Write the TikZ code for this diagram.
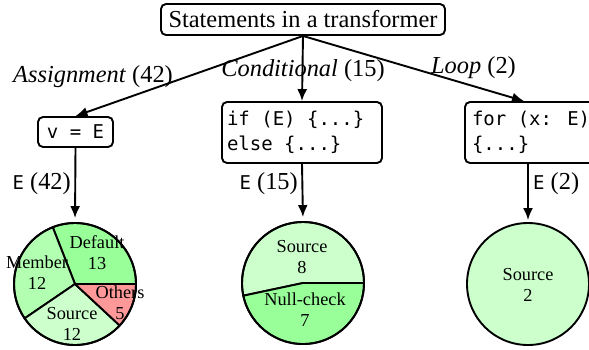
\documentclass[tikz,border=0pt]{standalone}
\usepackage{fontspec}
\setmainfont{Liberation Serif}
\newfontfamily\codefont{DejaVu Sans Mono}[WordSpace={1,0,0}]
\usetikzlibrary{arrows.meta}
\tikzset{
  mainfont/.style={font=\fontsize{24.4}{29}\selectfont},
  stmtbox/.style={draw, rounded corners=5pt, line width=1.9pt, inner sep=0pt, mainfont},
  codebox/.style={draw, rounded corners=5pt, line width=1.9pt, inner ysep=0pt,
    align=left, font=\fontsize{19}{25}\codefont},
  lbl/.style={inner sep=0pt, mainfont},
  pietxt/.style={inner sep=0pt, align=center, font=\fontsize{18.3}{21}\selectfont},
  arr/.style={line width=1.9pt, -{Latex[length=12pt,width=10pt]}},
  slice/.style={draw, line width=1.9pt, line join=round},
  piecirc/.style={circle, draw, line width=1.9pt, minimum size=122pt, inner sep=0pt},
}
\begin{document}
\begin{tikzpicture}[x=1pt, y=-1pt]
\clip (0,0) rectangle (589,349);
% top node
\node[stmtbox, minimum width=284pt, minimum height=31pt] (top) at (303,19.5) {Statements in a transformer};
% statement boxes
\node[stmtbox, minimum width=75pt, minimum height=30pt, font=\fontsize{19}{25}\codefont] (assign) at (75.5,132) {v = E};
\node[codebox, text width=150pt, inner xsep=5pt, minimum height=61pt] (cond) at (302,132.5) {\spaceskip=0pt\xspaceskip=0pt\relax if (E) \{...\}\\else \{...\}};
\node[codebox, text width=126pt, inner xsep=7pt, minimum height=61pt] (loop) at (535,132.5) {\spaceskip=0pt\xspaceskip=0pt\relax for (x: E)\\\{...\}};

% pie 1
\coordinate (c1) at (75,284);
\filldraw[slice, fill=green!40] (c1) -- ++(0:61) arc[start angle=0, end angle=-111.4, radius=61] -- cycle;
\filldraw[slice, fill=green!30] (c1) -- ++(-111.4:61) arc[start angle=-111.4, end angle=-214.3, radius=61] -- cycle;
\filldraw[slice, fill=green!20] (c1) -- ++(-214.3:61) arc[start angle=-214.3, end angle=-317.1, radius=61] -- cycle;
\filldraw[slice, fill=red!40] (c1) -- ++(-317.1:61) arc[start angle=-317.1, end angle=-360, radius=61] -- cycle;
\node[piecirc] (pie1) at (c1) {};
\node[pietxt] (p1a) at (97,253) {Default\\13};
\node[pietxt] (p1b) at (37,273) {Member\\12};
\node[pietxt] (p1c) at (72,324) {Source\\12};
\node[pietxt] (p1d) at (120,303) {Others\\5};

% pie 2
\coordinate (c2) at (303,283);
\filldraw[slice, fill=green!20] (c2) -- ++(0:61) arc[start angle=0, end angle=-192, radius=61] -- cycle;
\filldraw[slice, fill=green!40] (c2) -- ++(-192:61) arc[start angle=-192, end angle=-360, radius=61] -- cycle;
\node[piecirc] (pie2) at (c2) {};
\node[pietxt] (p2a) at (302,257) {Source\\8};
\node[pietxt] (p2b) at (305,310) {Null-check\\7};

% pie 3
\node[piecirc, fill=green!20] (pie3) at (528,284) {};
\node[pietxt] (p3a) at (528,285) {Source\\2};

% arrows
\draw[arr] (top.south) -- (assign.north);
\draw[arr] (top.south) -- (cond.north);
\draw[arr] (top.south) -- ([xshift=-11pt]loop.north);
\draw[arr, shorten >=4pt] (assign.south) -- (pie1.north);
\draw[arr, shorten >=4pt] (cond.south) -- (pie2.north);
\draw[arr, shorten >=2pt] (loop.south -| pie3.north) -- (pie3.north);

% edge labels
\node[lbl, anchor=base] (la) at (93,82) {\textit{Assignment} (42)};
\node[lbl, anchor=base] (lc) at (303,76) {\textit{Conditional} (15)};
\node[lbl, anchor=base] (ll) at (473.5,73.5) {\textit{Loop} (2)};
\node[lbl, anchor=east] (ea) at (71,184) {{\fontsize{19}{25}\codefont E} (42)};
\node[lbl, anchor=east] (ec) at (298,184) {{\fontsize{19}{25}\codefont E} (15)};
\node[lbl, anchor=west] (el) at (533,184) {{\fontsize{19}{25}\codefont E} (2)};
\end{tikzpicture}
\end{document}
